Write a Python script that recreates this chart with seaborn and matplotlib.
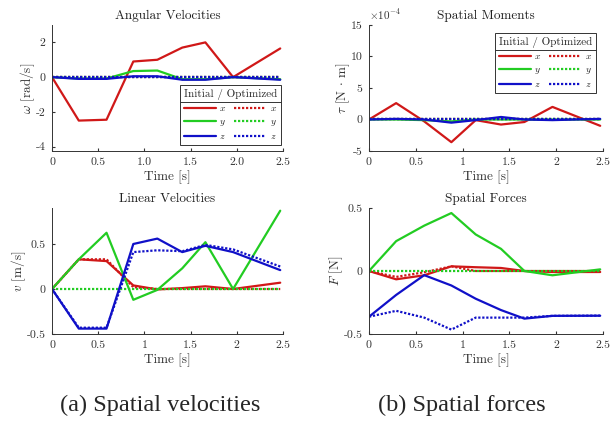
import numpy as np
import pandas as pd
import matplotlib
matplotlib.use("Agg")
import matplotlib.pyplot as plt
from matplotlib.lines import Line2D
import seaborn as sns

# ---------------- data ----------------
time = [0, 0.29, 0.59, 0.88, 1.14, 1.41, 1.66, 1.96, 2.47]

ang_x_init = [0, -2.5, -2.45, 0.9, 1.0, 1.7, 2.0, 0.0, 1.65]
ang_y_init = [0, -0.08, -0.08, 0.35, 0.38, -0.12, -0.12, 0.0, -0.12]
ang_z_init = [0, -0.1, -0.1, 0.05, 0.05, -0.15, -0.15, 0.0, -0.15]
ang_x_opt = [0, 0, 0, 0, 0, 0, 0, 0, 0]
ang_y_opt = [0, 0, 0, 0, 0, 0, 0, 0, 0]
ang_z_opt = [0, 0, 0, 0, 0, 0, 0, 0, 0]

mom_x_init = [0, 2.6e-4, -0.3e-4, -3.6e-4, -0.1e-4, -0.8e-4, -0.4e-4, 2.0e-4, -1.0e-4]
mom_y_init = [0, 0, -0.1e-4, -0.3e-4, 0, 0, 0, 0, 0]
mom_z_init = [0, 0.1e-4, 0, -0.5e-4, -0.1e-4, 0.4e-4, 0, -0.1e-4, 0.1e-4]
mom_x_opt = [0, 0, 0, 0, 0, 0, 0, 0, 0]
mom_y_opt = [0, 0, 0, 0, 0, 0, 0, 0, 0]
mom_z_opt = [0, 0, 0, 0, 0, 0, 0, 0, 0]

lin_x_init = [0, 0.33, 0.31, 0.04, -0.005, 0.01, 0.03, 0.0, 0.07]
lin_y_init = [0, 0.33, 0.625, -0.12, -0.01, 0.23, 0.52, 0.0, 0.87]
lin_z_init = [0, -0.44, -0.44, 0.50, 0.56, 0.41, 0.48, 0.41, 0.21]
lin_x_opt = [0, 0.33, 0.33, 0.02, 0, 0, 0, 0, 0]
lin_y_opt = [0, 0, 0, 0, 0, 0, 0, 0, 0]
lin_z_opt = [0, -0.43, -0.43, 0.41, 0.43, 0.42, 0.49, 0.44, 0.25]

frc_x_init = [0, -0.066, -0.034, 0.037, 0.03, 0.024, 0, -0.008, -0.008]
frc_y_init = [0, 0.237, 0.36, 0.46, 0.29, 0.176, 0, -0.034, 0.013]
frc_z_init = [-0.363, -0.19, -0.033, -0.115, -0.22, -0.31, -0.378, -0.356, -0.355]
frc_x_opt = [0, -0.047, -0.01, 0.037, 0, 0, 0, 0, 0]
frc_y_opt = [0, 0, 0, 0, 0, 0, 0, 0, 0]
frc_z_opt = [-0.363, -0.316, -0.37, -0.465, -0.37, -0.37, -0.37, -0.356, -0.354]

components = ["x", "y", "z"]
xticks = [0, 0.5, 1, 1.5, 2, 2.5]
xticklabels_ang = ["0", "0.5", "1.0", "1.5", "2.0", "2.5"]
xticklabels = ["0", "0.5", "1", "1.5", "2", "2.5"]
ang_yticks = [-4, -2, 0, 2]
ang_yticklabels = ["-4", "-2", "0", "2"]
mom_yticks = [-5e-4, 0, 5e-4, 10e-4, 15e-4]
mom_yticklabels = ["-5", "0", "5", "10", "15"]
half_yticks = [-0.5, 0, 0.5]
half_yticklabels = ["-0.5", "0", "0.5"]

titles = ["Angular Velocities", "Spatial Moments", "Linear Velocities", "Spatial Forces"]
ylabels = [r"$\omega$ [rad/s]", r"$\tau$ [N $\cdot$ m]", r"$v$ [m/s]", r"$F$ [N]"]
captions = ["(a) Spatial velocities", "(b) Spatial forces"]

# ---------------- style ----------------
sns.set_style("ticks")
plt.rcParams.update({
    "font.family": ["cmr10", "DejaVu Serif"],
    "mathtext.fontset": "cm",
    "axes.formatter.use_mathtext": True,
    "axes.unicode_minus": False,
    "xtick.direction": "in",
    "ytick.direction": "in",
    "xtick.major.size": 2.5,
    "ytick.major.size": 2.5,
    "axes.linewidth": 0.7,
    "axes.edgecolor": "#333333",
    "xtick.color": "#333333",
    "ytick.color": "#333333",
    "font.size": 8.5,
})

palette = {"x": "#d01818", "y": "#22cc22", "z": "#1010c8"}
dashes = {"Initial": "", "Optimized": (1.0, 0.8)}

W, H = 611, 423
fig = plt.figure(figsize=(W / 100, H / 100), dpi=100)


def px_axes(l, r, t, b):
    return fig.add_axes([l / W, 1 - b / H, (r - l) / W, (b - t) / H])


ax1 = px_axes(52, 283, 25, 151)
ax2 = px_axes(369, 603, 25, 151)
ax3 = px_axes(52, 283, 208, 334)
ax4 = px_axes(369, 603, 208, 334)


def make_df(init, opt):
    rows = []
    for c, vi, vo in zip(components, init, opt):
        for t, v in zip(time, vi):
            rows.append((t, v, c, "Initial"))
        for t, v in zip(time, vo):
            rows.append((t, v, c, "Optimized"))
    return pd.DataFrame(rows, columns=["time", "value", "comp", "kind"])


def draw(ax, init, opt):
    df = make_df(init, opt)
    for c in components:
        for kind in ["Initial", "Optimized"]:
            sub = df[(df.comp == c) & (df.kind == kind)]
            sns.lineplot(data=sub, x="time", y="value", hue="comp", style="kind",
                         palette=palette, dashes=dashes, linewidth=1.6,
                         legend=False, ax=ax, estimator=None, sort=False)


draw(ax1, [ang_x_init, ang_y_init, ang_z_init], [ang_x_opt, ang_y_opt, ang_z_opt])
draw(ax2, [mom_x_init, mom_y_init, mom_z_init], [mom_x_opt, mom_y_opt, mom_z_opt])
draw(ax3, [lin_x_init, lin_y_init, lin_z_init], [lin_x_opt, lin_y_opt, lin_z_opt])
draw(ax4, [frc_x_init, frc_y_init, frc_z_init], [frc_x_opt, frc_y_opt, frc_z_opt])

axes = [ax1, ax2, ax3, ax4]
for ax, title, yl in zip(axes, titles, ylabels):
    ax.set_xlim(0, 2.5)
    ax.set_xticks(xticks)
    ax.set_xticklabels(xticklabels)
    ax.set_title(title, fontsize=9.5, pad=4, color="#222222")
    ax.set_xlabel("Time [s]", fontsize=9.5, labelpad=3, color="#333333")
    ax.set_ylabel(yl, fontsize=9.5, labelpad=-1, color="#333333")
    ax.tick_params(labelsize=8.5, pad=4.5)
    sns.despine(ax=ax)

ax1.set_xticklabels(xticklabels_ang)
ax1.set_ylim(-4.25, 3.0)
ax1.set_yticks(ang_yticks)
ax1.set_yticklabels(ang_yticklabels)
ax2.set_ylim(-5e-4, 15e-4)
ax2.set_yticks(mom_yticks)
ax2.set_yticklabels(mom_yticklabels)
ax2.text(0.0, 1.02, r"$\times 10^{-4}$", transform=ax2.transAxes, fontsize=8,
         ha="left", va="bottom", color="#333333")
ax3.set_ylim(-0.5, 0.9)
ax3.set_yticks(half_yticks)
ax3.set_yticklabels(half_yticklabels)
ax4.set_ylim(-0.5, 0.5)
ax4.set_yticks(half_yticks)
ax4.set_yticklabels(half_yticklabels)

# legends
handles = []
for kind in ["Initial", "Optimized"]:
    for c in components:
        handles.append(Line2D([], [], color=palette[c], lw=1.6,
                              linestyle="-" if kind == "Initial" else (0, (1.0, 0.8))))
labels = [f"${c}$" for c in components] * 2

legs = []
for ax, anchor in [(ax1, (0.99, 0.524)), (ax2, (0.970, 0.937))]:
    leg = ax.legend(handles, labels, ncol=2, title="Initial / Optimized",
                    loc="upper right", bbox_to_anchor=anchor, borderaxespad=0,
                    fontsize=7, title_fontsize=8, handlelength=3.3,
                    handletextpad=0.35, columnspacing=0.8, labelspacing=0.45,
                    borderpad=0.4, fancybox=False, framealpha=1,
                    edgecolor="#333333")
    leg.get_frame().set_linewidth(0.7)
    legs.append(leg)

fig.canvas.draw()
renderer = fig.canvas.get_renderer()
for leg in legs:
    fb = leg.get_frame().get_window_extent(renderer)
    tb = leg.get_title().get_window_extent(renderer)
    y = tb.y0 - 2.5
    fig.add_artist(Line2D([fb.x0 / W, fb.x1 / W], [y / H, y / H],
                          transform=fig.transFigure, color="#333333", lw=0.7))

fig.text(160 / W, 1 - 405 / H, captions[0], family="Liberation Serif",
         fontsize=17.5, ha="center", va="center")
fig.text(462 / W, 1 - 405 / H, captions[1], family="Liberation Serif",
         fontsize=17.5, ha="center", va="center")

fig.savefig("out.png", dpi=100)
